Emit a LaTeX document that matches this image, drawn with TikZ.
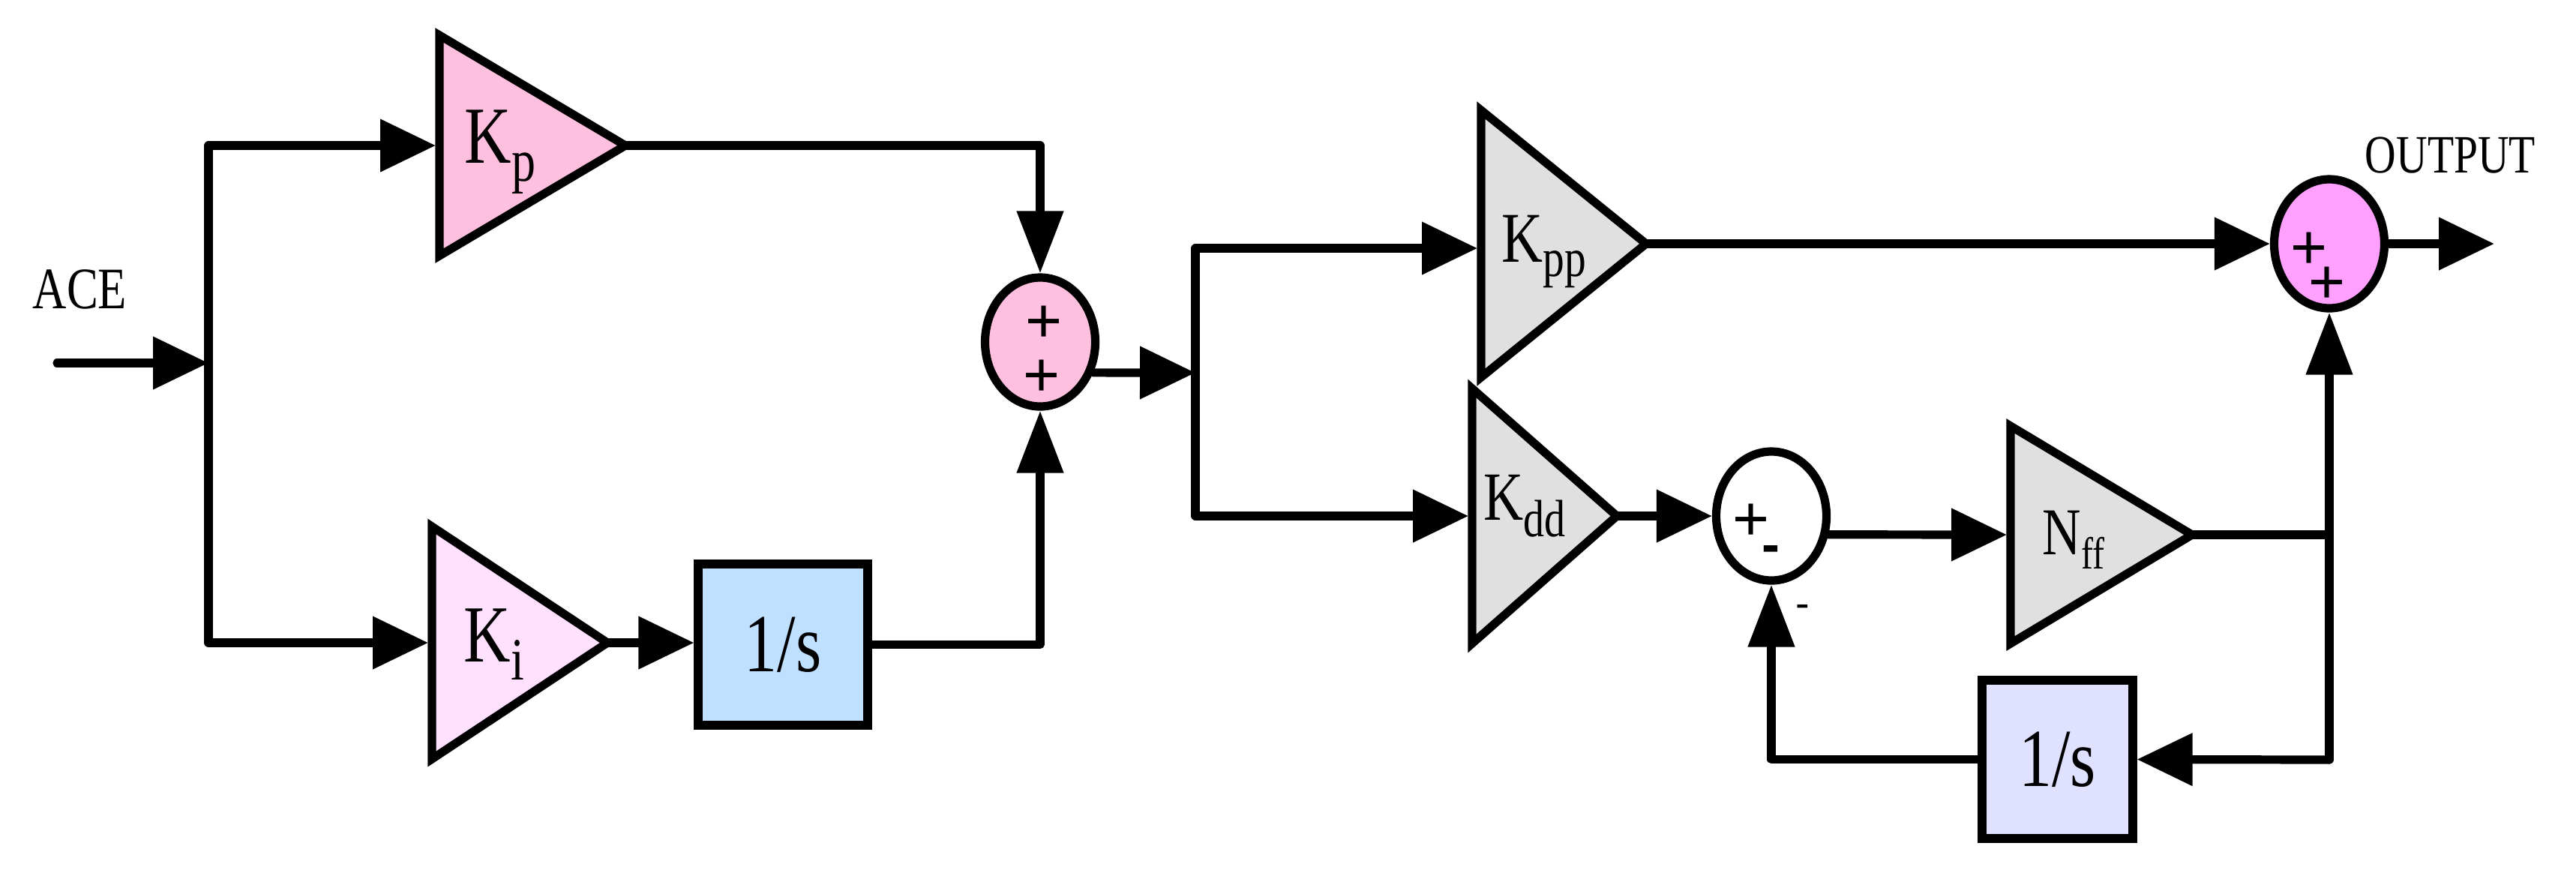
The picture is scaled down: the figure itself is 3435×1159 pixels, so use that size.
\documentclass[tikz,border=0pt]{standalone}
\usepackage{fontspec}
\setmainfont{Liberation Serif}[FakeStretch=0.8]
\newfontfamily\sgnfont{Liberation Sans}
\usetikzlibrary{arrows.meta,shapes.geometric}
\definecolor{pinkA}{HTML}{FFC0E0}
\definecolor{pinkB}{HTML}{FFE0FF}
\definecolor{blueA}{HTML}{C0E0FF}
\definecolor{greyA}{HTML}{E0E0E0}
\definecolor{magA}{HTML}{FFA0FF}
\definecolor{lavA}{HTML}{E0E0FF}
\newcommand\fs[1]{\fontsize{#1}{#1}\selectfont}
\begin{document}
\begin{tikzpicture}[x=0.25pt,y=-0.25pt,
  wire/.style={line width=2.8pt,line cap=round,line join=round},
  ha/.style={wire,-{Triangle[length=18.5pt,width=17pt]}},
  va/.style={wire,-{Triangle[length=20.75pt,width=15pt]}},
  amp/.style={line width=2.8pt,line join=miter},
  sumnode/.style={ellipse,draw,line width=2.8pt,minimum width=36.75pt,minimum height=43pt,inner sep=0pt},
  blk/.style={rectangle,draw,line width=2.8pt,inner sep=0pt,font=\fs{27.5}},
  txt/.style={inner sep=0pt,anchor=base west},
  sgn/.style={inner sep=0pt,anchor=base,font=\sgnfont\fs{21}},
]
\useasboundingbox (0,0) rectangle (3435,1159);

% ---------- amplifiers (triangles) ----------
\draw[amp,fill=pinkA] (586,47) -- (834,194) -- (586,341) -- cycle;
\draw[amp,fill=pinkB] (576,702) -- (810,857) -- (576,1012) -- cycle;
\draw[amp,fill=greyA] (1975,147) -- (2195,325) -- (1975,503) -- cycle;
\draw[amp,fill=greyA] (1963,518) -- (2156,688) -- (1963,858) -- cycle;
\draw[amp,fill=greyA] (2681,568) -- (2923,713) -- (2681,858) -- cycle;

\coordinate (Kp-in) at (581,194);   \coordinate (Kp-out) at (834,194);
\coordinate (Ki-in) at (571,857);   \coordinate (Ki-out) at (810,857);
\coordinate (Kpp-in) at (1970,331); \coordinate (Kpp-out) at (2195,325);
\coordinate (Kdd-in) at (1958,688); \coordinate (Kdd-out) at (2156,688);
\coordinate (Nff-in) at (2676,713); \coordinate (Nff-out) at (2923,713);

% ---------- gain labels ----------
\node[txt] (Kp) at (619,217) {\fs{27}K\raisebox{-6pt}{\fs{20}p}};
\node[txt] (Ki) at (618,882) {\fs{27}K\raisebox{-6pt}{\fs{20}i}};
\node[txt] (Kpp) at (2002,349) {\fs{23.8}K\raisebox{-4.75pt}{\fs{18}pp}};
\node[txt] (Kdd) at (1978,693) {\fs{23}K\raisebox{-5.5pt}{\fs{17.5}dd}};
\node[txt] (Nff) at (2723,739) {\fs{22.3}N\raisebox{-4.75pt}{\fs{15}ff}};

% ---------- summing junctions ----------
\node[sumnode,fill=pinkA] (sum1) at (1387,456) {};
\node[sumnode,fill=white] (sum2) at (2362,688) {};
\node[sumnode,fill=magA] (sum3) at (3106,325) {};

\node[sgn] (s1a) at (1392,456) {+};
\node[sgn] (s1b) at (1389,528) {+};
\node[sgn] (s2a) at (2335,720) {+};
\node[inner sep=0pt,anchor=base,font=\sgnfont\bfseries\fs{18}] (s2b) at (2361,750) {-};
\node[inner sep=0pt,anchor=base,font=\sgnfont\fs{14}] (s2c) at (2404,823) {-};
\node[sgn] (s3a) at (3079,358) {+};
\node[sgn] (s3b) at (3103,404) {+};

% ---------- integrator blocks ----------
\node[blk,fill=blueA,minimum width=56.5pt,minimum height=53.75pt] (int1) at (1044,859.5) {1/s};
\node[blk,fill=lavA,minimum width=50.25pt,minimum height=52.75pt] (int2) at (2743.5,1012.5) {1/s};

% ---------- texts ----------
\node[txt,font=\fs{19.6}] (ace) at (43,411) {ACE};
\node[txt,font=\fs{18}] (out) at (3153,230) {OUTPUT};

% ---------- junction coordinates ----------
\coordinate (IN) at (76,484);
\coordinate (J1) at (278,484);
\coordinate (J1t) at (278,194);
\coordinate (J1b) at (278,857);
\coordinate (J2) at (1594,497);
\coordinate (J2t) at (1594,331);
\coordinate (J2b) at (1594,688);
\coordinate (J3) at (3106,713);
\coordinate (J4) at (3106,1013);
\coordinate (OUT) at (3326,325);

% ---------- connectors ----------
\draw[ha] (IN) -- (J1);
\draw[wire] (J1t) -- (J1b);
\draw[ha] (J1t) -- (Kp-in);
\draw[ha] (J1b) -- (Ki-in);
\draw[va] (Kp-out) -| (sum1.north);
\draw[ha] (Ki-out) -- (Ki-out -| int1.west);
\draw[va] (int1.east) -| (sum1.south);
\draw[ha] (sum1.-30) -- (J2);
\draw[wire] (J2t) -- (J2b);
\draw[ha] (J2t) -- (Kpp-in);
\draw[ha] (J2b) -- (Kdd-in);
\draw[ha] (Kpp-out) -- (sum3.west);
\draw[ha] (sum3.east) -- (OUT);
\draw[ha] (Kdd-out) -- (sum2.west);
\draw[ha] (sum2.-18) -- (Nff-in);
\draw[wire] (Nff-out) -- (J3);
\draw[va] (J4) -- (sum3.south);
\draw[ha] (J4) -- (int2.east);
\draw[va] (int2.west) -| (sum2.south);
\end{tikzpicture}
\end{document}
